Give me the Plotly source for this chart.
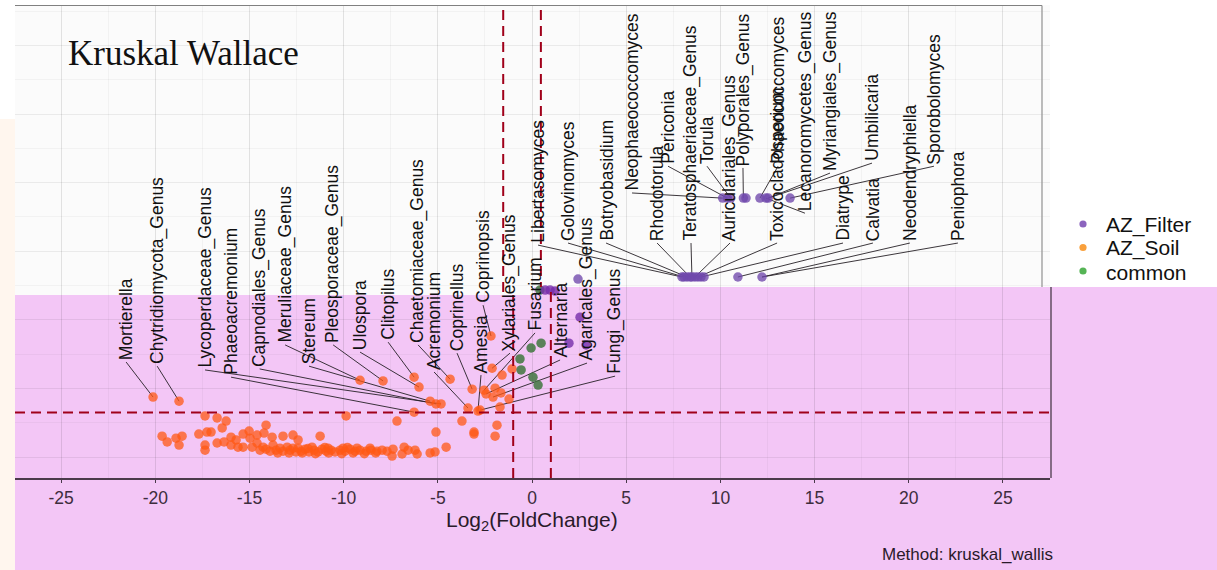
import plotly.graph_objects as go

# ---------------- data ----------------
soil_x = [-20.12, -18.74, -17.36, -16.72, -16.24, -16.45, -17.69, -17.26, -17.04, -19.64,
          -19.37, -18.90, -18.58, -18.74, -17.36, -17.36, -16.72, -16.35, -15.98, -15.98,
          -15.71, -15.61, -15.34, -15.02, -14.97, -14.60, -14.23, -14.12, -13.80, -13.22,
          -12.69, -12.42, -11.25, -15.34, -14.86, -14.60, -14.28, -13.75, -13.38, -13.00,
          -12.69,
          -14.44, -14.12, -13.91, -13.59, -13.22, -12.85, -12.53, -12.26, -12.05, -11.84,
          -11.57, -11.36, -11.15, -10.93, -10.67, -10.46, -10.19, -9.93, -9.66, -9.39,
          -9.13, -8.81, -8.55, -8.23, -7.96, -7.70, -12.42, -11.68, -10.83, -10.03, -9.29,
          -12.90, -12.20, -11.50, -10.80, -10.10, -9.50, -8.90, -8.30, -13.50, -11.90,
          -11.00, -9.80, -8.60,
          -9.87, -7.38, -7.43, -7.17, -6.90, -6.79, -6.58, -6.21, -6.10, -5.41, -5.15,
          -5.10, -4.56,
          -6.26, -5.41, -5.10, -4.83, -9.13, -7.91, -6.00, -6.26, -4.35, -3.40, -3.18,
          -2.18, -2.87, -2.76, -2.12, -2.55, -2.44, -2.07,
          -1.59, -1.06, -1.96, -1.65, -1.22, -1.70, -3.72, -3.08, -3.08, -1.86, -1.96]
soil_y = [1.75, 1.63, 1.20, 1.14, 1.05, 0.85, 0.67, 0.73, 0.73, 0.61,
          0.44, 0.55, 0.61, 0.35, 0.35, 0.20, 0.41, 0.44, 0.58, 0.35,
          0.50, 0.29, 0.67, 0.76, 0.55, 0.64, 0.70, 0.93, 0.58, 0.61,
          0.64, 0.50, 0.61, 0.29, 0.29, 0.41, 0.29, 0.35, 0.26, 0.29,
          0.26,
          0.20, 0.23, 0.17, 0.20, 0.17, 0.20, 0.15, 0.17, 0.23, 0.15,
          0.20, 0.15, 0.23, 0.17, 0.20, 0.15, 0.20, 0.17, 0.23, 0.17,
          0.20, 0.17, 0.20, 0.17, 0.20, 0.17, 0.26, 0.29, 0.26, 0.26, 0.26,
          0.12, 0.12, 0.10, 0.12, 0.10, 0.12, 0.10, 0.12, 0.12, 0.25,
          0.28, 0.28, 0.26,
          1.20, 0.23, 0.03, 1.05, 0.09, 0.29, 0.20, 0.20, 0.09, 0.12, 0.15,
          0.73, 0.29,
          1.31, 1.63, 1.55, 1.55, 2.24, 2.22, 2.04, 2.33, 2.27, 1.43, 1.98,
          3.53, 1.34, 1.37, 2.59, 1.95, 1.84, 1.75,
          2.39, 2.57, 2.01, 1.87, 1.69, 1.46, 1.05, 0.73, 0.67, 0.93, 0.61]

filter_x = [2.55, 1.96, 2.87, 0.70, 0.96, 1.22,
            2.97,
            10.65, 10.90, 11.08, 11.75, 11.89, 12.63, 12.95, 13.07, 14.23,
            8.49, 8.60, 8.76, 8.92, 9.02, 9.18, 9.34, 9.50, 9.66, 11.46, 12.74]
filter_y = [4.08, 3.32, 3.27, 4.87, 4.87, 4.84,
            5.19,
            7.55, 7.55, 7.55, 7.55, 7.55, 7.55, 7.55, 7.55, 7.55,
            5.25, 5.25, 5.25, 5.25, 5.25, 5.25, 5.25, 5.25, 5.25, 5.25, 5.25]

common_x = [0.48, -0.05, -0.64, -0.58, 0.05, 0.32, 0.42]
common_y = [3.32, 3.18, 2.86, 2.54, 2.33, 2.10, 4.87]

label_text = ["Mortierella", "Chytridiomycota_Genus", "Lycoperdaceae_Genus", "Phaeoacremonium",
              "Capnodiales_Genus", "Meruliaceae_Genus", "Stereum", "Pleosporaceae_Genus",
              "Ulospora", "Clitopilus", "Chaetomiaceae_Genus", "Acremonium", "Coprinellus",
              "Coprinopsis", "Amesia", "Xylariales_Genus", "Fusarium", "Alternaria",
              "Agaricales_Genus", "Fungi_Genus",
              "Libertasomyces", "Golovinomyces", "Botryobasidium", "Rhodotorula",
              "Teratosphaeriaceae_Genus", "Auriculariales_Genus", "Toxicocladosporium",
              "Diatrype", "Calvatia", "Neodendryphiella", "Peniophora",
              "Neophaeococcomyces", "Periconia", "Torula", "Polyporales_Genus",
              "Phaeococcomyces", "Lecanoromycetes_Genus", "Myriangiales_Genus",
              "Umbilicaria", "Sporobolomyces"]
label_x = [-21.55, -19.90, -17.36, -15.98, -14.46, -13.11, -11.84, -10.56, -9.13, -7.64,
           -6.05, -5.20, -3.98, -2.60, -2.71, -1.17, 0.16, 1.49, 2.92, 4.41,
           0.85, 2.44, 4.46, 7.17, 8.97, 11.04, 13.54, 17.04, 18.63, 20.59, 23.14,
           5.84, 7.75, 9.82, 11.73, 13.59, 15.02, 16.35, 18.58, 21.87]
label_y = [2.77, 2.65, 2.54, 2.33, 2.57, 3.27, 2.65, 3.27, 3.06, 3.35,
           3.27, 2.48, 3.03, 4.43, 2.39, 3.03, 3.62, 2.83, 2.74, 2.36,
           6.18, 6.24, 6.24, 6.24, 6.24, 6.24, 6.24, 6.24, 6.24, 6.24, 6.24,
           7.70, 8.48, 8.48, 8.43, 8.48, 7.11, 8.28, 8.57, 8.48]
label_tx = [-20.12, -18.74, -4.83, -6.26, -5.10, -9.13, -5.41, -7.91, -6.00, -6.26,
            -4.35, -3.40, -3.18, -2.18, -2.87, -2.12, -2.55, -2.44, -2.07, -2.76,
            8.49, 8.60, 8.76, 8.92, 9.02, 9.18, 9.34, 9.50, 11.46, 12.74, 12.74,
            10.65, 10.90, 11.08, 11.75, 12.63, 12.95, 13.07, 13.07, 14.23]
label_ty = [1.75, 1.63, 1.55, 1.31, 1.55, 2.24, 1.63, 2.22, 2.04, 2.33,
            2.27, 1.43, 1.98, 3.53, 1.34, 2.59, 1.95, 1.84, 1.75, 1.37,
            5.25, 5.25, 5.25, 5.25, 5.25, 5.25, 5.25, 5.25, 5.25, 5.25, 5.25,
            7.55, 7.55, 7.55, 7.55, 7.55, 7.55, 7.55, 7.55, 7.55]

series_names = ["AZ_Filter", "AZ_Soil", "common"]
x_tick_vals = [-25, -20, -15, -10, -5, 0, 5, 10, 15, 20, 25]
fc_threshold = 1
sig_threshold = 1.3

# ---------------- layout / style ----------------
W, H = 1217, 570
ML, MR, MT, MB = 15, 167, 5, 92
PW, PH = W - ML - MR, H - MT - MB
X_RANGE = [-27.45, 27.5]
Y_RANGE = [-0.61, 13.18]
TOP_SHIFT = -0.53     # the upper part of the picture sits ~10px to the left
Y_SPLIT = 4.9
PINK = "#F3C6F6"
CREAM = "#FFF6EE"
RED = "#A0001A"
FONT = "Liberation Sans, Arial, sans-serif"
LEGEND_X, LEGEND_Y0, LEGEND_DY = 1083, 224, 23.5


def pxx(p):
    return (p - ML) / PW


def pxy(p):
    return (H - MB - p) / PH


def data_y(p):
    return Y_RANGE[1] - (p - MT) / PH * (Y_RANGE[1] - Y_RANGE[0])


def rx(x, y):
    return x + TOP_SHIFT if y > Y_SPLIT else x


pink_colors = {"AZ_Filter": "rgba(118,45,170,0.80)", "AZ_Soil": "rgba(255,88,20,0.75)",
               "common": "rgba(62,118,62,0.85)"}
top_colors = {"AZ_Filter": "rgba(112,72,172,0.78)", "AZ_Soil": "rgba(250,140,40,0.75)",
              "common": "rgba(70,170,70,0.75)"}
legend_colors = {"AZ_Filter": "#8C64BE", "AZ_Soil": "#F9A03C", "common": "#55B455"}

fig = go.Figure()

# leader segments
seg_x, seg_y = [], []
for lx, ly, tx, ty in zip(label_x, label_y, label_tx, label_ty):
    seg_x += [rx(tx, ty), rx(lx, ly), None]
    seg_y += [ty, ly, None]
fig.add_trace(go.Scatter(x=seg_x, y=seg_y, mode="lines", line=dict(color="#262026", width=0.9),
                         hoverinfo="skip", showlegend=False))

series = {"AZ_Soil": (soil_x, soil_y), "common": (common_x, common_y),
          "AZ_Filter": (filter_x, filter_y)}
for name in ["AZ_Soil", "common", "AZ_Filter"]:
    xs, ys = series[name]
    lo = [(x, y) for x, y in zip(xs, ys) if y <= Y_SPLIT]
    hi = [(rx(x, y), y) for x, y in zip(xs, ys) if y > Y_SPLIT]
    for pts, col in ((lo, pink_colors[name]), (hi, top_colors[name])):
        if pts:
            fig.add_trace(go.Scatter(x=[p[0] for p in pts], y=[p[1] for p in pts], mode="markers",
                                     marker=dict(size=9.5, color=col, line=dict(width=0)),
                                     name=name, showlegend=False))

# labels
annotations = []
for t, lx, ly in zip(label_text, label_x, label_y):
    annotations.append(dict(x=rx(lx, ly), y=ly, xref="x", yref="y", text=t, showarrow=False,
                            textangle=-90, xanchor="center", yanchor="bottom",
                            font=dict(family=FONT, size=17.5, color="#111")))

annotations += [
    dict(x=pxx(66), y=pxy(53), xref="paper", yref="paper", text="Kruskal Wallace",
         showarrow=False, xanchor="left", yanchor="middle",
         font=dict(family="Liberation Serif, Times New Roman, serif", size=35, color="#111")),
    dict(x=pxx(532), y=pxy(521), xref="paper", yref="paper", text="Log<sub>2</sub>(FoldChange)",
         showarrow=False, xanchor="center", yanchor="middle",
         font=dict(family=FONT, size=21, color="#2a1a2a")),
    dict(x=pxx(1055), y=pxy(554), xref="paper", yref="paper", text="Method: kruskal_wallis",
         showarrow=False, xanchor="right", yanchor="middle",
         font=dict(family=FONT, size=17, color="#2a1a2a")),
]

y_pink_left = data_y(295)
y_pink_right = data_y(287)
y_top_line = data_y(10)
shapes = [
    # cream strip on the far left
    dict(type="rect", xref="paper", yref="paper", x0=pxx(0), x1=pxx(15), y0=pxy(570), y1=pxy(119),
         fillcolor=CREAM, line=dict(width=0), layer="below"),
    # pink overlay on the lower part
    dict(type="path", xref="paper", yref="paper", layer="below", fillcolor=PINK, line=dict(width=0),
         path=f"M {pxx(15)} {pxy(295)} L {pxx(534)} {pxy(295)} L {pxx(534)} {pxy(287)} "
              f"L {pxx(1217)} {pxy(287)} L {pxx(1217)} {pxy(570)} L {pxx(15)} {pxy(570)} Z"),
    # borders
    dict(type="line", xref="paper", yref="paper", x0=pxx(15), x1=pxx(1042), y0=pxy(5.5), y1=pxy(5.5),
         line=dict(color="#808080", width=1.2)),
    dict(type="line", xref="paper", yref="paper", x0=pxx(1042), x1=pxx(1042), y0=pxy(5.5), y1=pxy(287),
         line=dict(color="#909090", width=1.2)),
    dict(type="line", xref="paper", yref="paper", x0=pxx(1051), x1=pxx(1051), y0=pxy(287), y1=pxy(478),
         line=dict(color="#4a3a4a", width=1.3)),
    # thresholds
    dict(type="line", xref="paper", yref="y", x0=0, x1=1, y0=sig_threshold, y1=sig_threshold,
         line=dict(color=RED, width=2, dash="10px,6px")),
    dict(type="line", xref="x", yref="y", x0=-fc_threshold, x1=-fc_threshold, y0=Y_RANGE[0],
         y1=y_pink_left, line=dict(color=RED, width=2, dash="10px,6px")),
    dict(type="line", xref="x", yref="y", x0=fc_threshold, x1=fc_threshold, y0=Y_RANGE[0],
         y1=y_pink_right, line=dict(color=RED, width=2, dash="10px,6px")),
    dict(type="line", xref="x", yref="y", x0=-fc_threshold + TOP_SHIFT, x1=-fc_threshold + TOP_SHIFT,
         y0=y_top_line, y1=y_pink_left, line=dict(color=RED, width=2, dash="10px,6px")),
    dict(type="line", xref="x", yref="y", x0=fc_threshold + TOP_SHIFT, x1=fc_threshold + TOP_SHIFT,
         y0=y_top_line, y1=y_pink_right, line=dict(color=RED, width=2, dash="10px,6px")),
]

# legend (keys + names) placed as in the reference
for i, name in enumerate(series_names):
    cy = LEGEND_Y0 + i * LEGEND_DY
    shapes.append(dict(type="circle", xref="paper", yref="paper", xsizemode="pixel",
                       ysizemode="pixel", xanchor=pxx(LEGEND_X), yanchor=pxy(cy),
                       x0=-3.6, x1=3.6, y0=-3.6, y1=3.6, fillcolor=legend_colors[name],
                       line=dict(width=0)))
    annotations.append(dict(x=pxx(LEGEND_X + 21), y=pxy(cy + 1), xref="paper", yref="paper",
                            text=name, showarrow=False, xanchor="left", yanchor="middle",
                            font=dict(family=FONT, size=21, color="#111")))

fig.update_layout(
    width=W, height=H,
    margin=dict(l=ML, r=MR, t=MT, b=MB),
    paper_bgcolor="white", plot_bgcolor="#FBFBFB",
    font=dict(family=FONT, color="#2a1a2a"),
    shapes=shapes, annotations=annotations, showlegend=False,
    xaxis=dict(range=X_RANGE, tickmode="array", tickvals=x_tick_vals,
               ticktext=[str(v) for v in x_tick_vals],
               showgrid=True, gridcolor="rgba(0,0,0,0.065)", gridwidth=1,
               minor=dict(dtick=2.5, tick0=0, showgrid=True, gridcolor="rgba(0,0,0,0.035)"),
               zeroline=False, showline=True, linecolor="#4a3a4a", linewidth=1.5,
               ticks="outside", ticklen=3, tickcolor="#4a3a4a",
               tickfont=dict(family=FONT, size=17.5, color="#3d2d3d")),
    yaxis=dict(range=Y_RANGE, tick0=0, dtick=2, showticklabels=False, ticks="",
               showgrid=True, gridcolor="rgba(0,0,0,0.065)",
               minor=dict(dtick=1, tick0=0, showgrid=True, gridcolor="rgba(0,0,0,0.035)"),
               zeroline=False, showline=False),
)

fig.write_html("out.html", config={"displayModeBar": False})

# remove the browser's default page margin so the figure sits at the window origin
with open("out.html", encoding="utf-8") as fh:
    page = fh.read()
page = page.replace("<head>", "<head><style>html,body{margin:0;padding:0;overflow:hidden;}</style>", 1)
with open("out.html", "w", encoding="utf-8") as fh:
    fh.write(page)
